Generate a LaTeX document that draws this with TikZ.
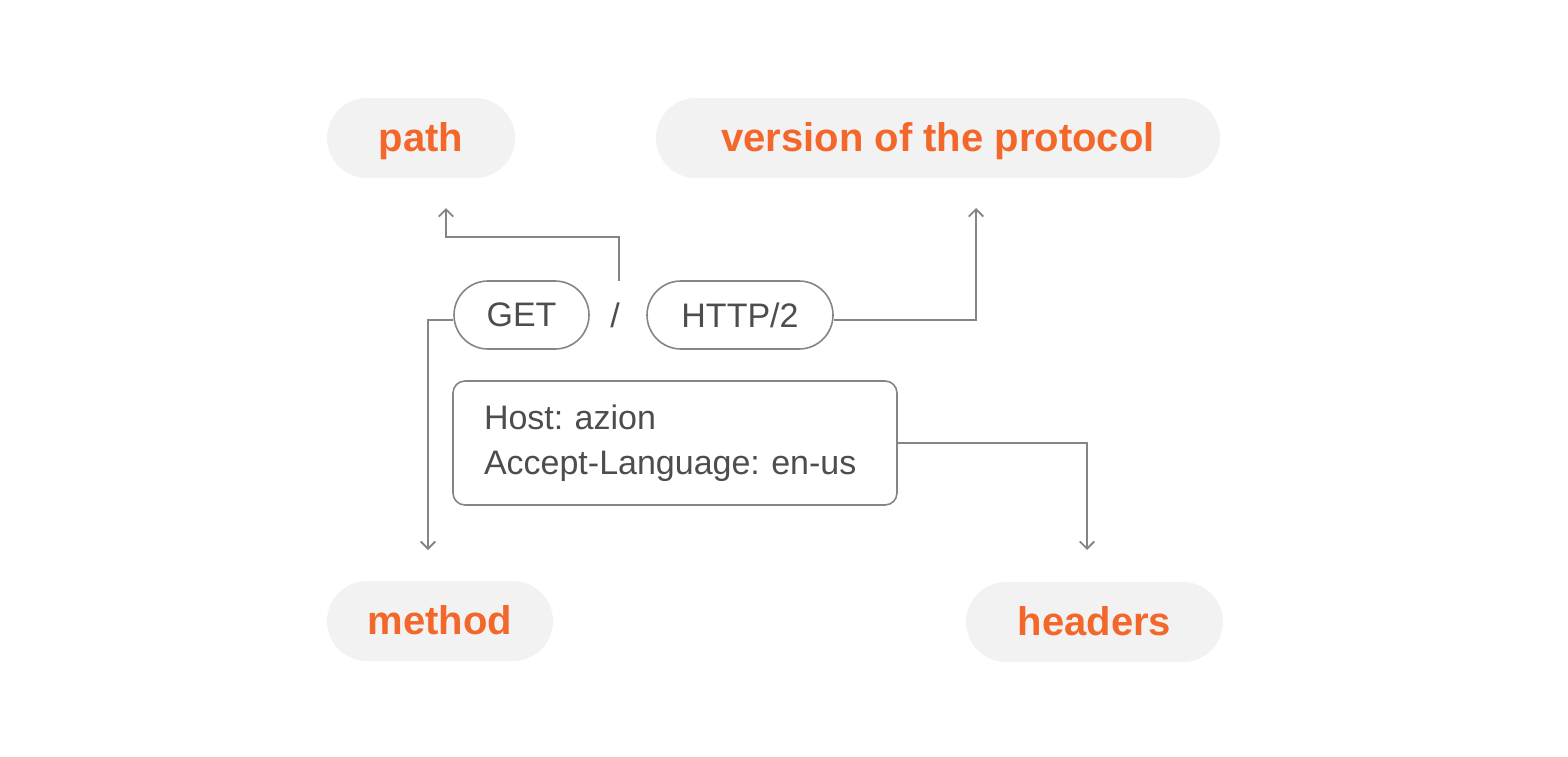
\documentclass[tikz,border=0pt]{standalone}
\usepackage{fontspec}
\setmainfont{Liberation Sans}
\usetikzlibrary{arrows.meta}
\tikzset{>={Straight Barb[scale=1.1]}}
\definecolor{azorange}{HTML}{F4672B}
\definecolor{azfill}{HTML}{F2F2F2}
\definecolor{azline}{HTML}{858585}
\definecolor{aztext}{HTML}{4D4D4D}
\frenchspacing
\tikzset{
  label pill/.style={fill=azfill, rounded corners=20pt, text=azorange,
    font=\fontsize{20}{24}\selectfont\bfseries, minimum height=40pt, inner sep=0pt,
    text height=17.5pt, text depth=4.2pt},
  part pill/.style={draw=azline, line width=.8pt, rounded corners=17pt, text=aztext,
    font=\fontsize{17}{20}\selectfont, minimum height=34pt, inner sep=0pt},
  link/.style={draw=azline, line width=.9pt, ->},
}

\begin{document}
\begin{tikzpicture}[x=.5pt, y=-.5pt]
      \useasboundingbox (0, 0) rectangle (1568, 756);
      % labels
      \node[label pill, minimum width=94pt] (path) at (421, 138) {path};
      \node[label pill, minimum width=282pt] (version) at (938, 138) {version of the protocol};
      \node[label pill, minimum width=113pt] (method) at (440, 621) {method};
      \node[label pill, minimum width=128.5pt] (headers) at (1094.5, 622) {headers};
      % request line
      \node[part pill, minimum width=67.5pt] (get) at (521.5, 315) {GET};
      \node[text=aztext, font=\fontsize{17}{20}\selectfont, minimum height=34pt,
        inner sep=0pt] (slash) at (615, 315) {/};
      \node[part pill, minimum width=93pt] (http) at (740, 315) {HTTP/2};
      % header fields
      \node[draw=azline, line width=.8pt, rounded corners=6pt, text=aztext, align=left,
        font=\fontsize{17}{22.5}\selectfont, minimum width=222pt, minimum height=62pt,
        inner xsep=15.5pt, text width=191pt] (fields) at (675, 443)
        {Host: azion\\Accept-Language: en-us};
      % connectors
      \coordinate (path in) at (446, 208);
      \coordinate (version in) at (976, 208);
      \coordinate (method in) at (428, 550);
      \coordinate (headers in) at (1087, 550);
      \draw[link] ([xshift=2pt]slash.north) |- ([yshift=-14.5pt]path in) -- (path in);
      \draw[link] ([yshift=-2.5pt]http.east) -| (version in);
      \draw[link] ([yshift=-2.5pt]get.west) -| (method in);
      \draw[link] (fields.east) -| (headers in);
    \end{tikzpicture}
\end{document}
